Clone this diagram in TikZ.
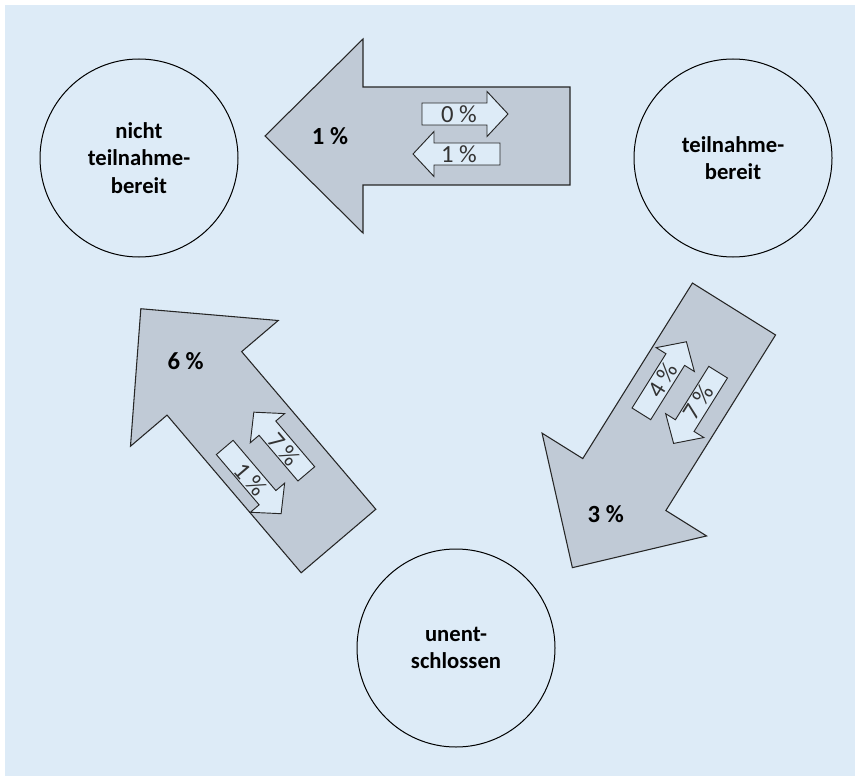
\documentclass[tikz,border=0pt]{standalone}
\usepackage{fontspec}
\setmainfont{Carlito}
\definecolor{bgblue}{RGB}{221,235,247}
\definecolor{flowgray}{RGB}{192,202,214}

% big flow arrow, local frame: tail centre at origin, pointing along +x
\newcommand\mainflow{%
  \draw[flow] (0,-49) -- (207,-49) -- (207,-97) -- (305,0) -- (207,97) -- (207,49) -- (0,49) -- cycle;}
% small flow arrow: #1 tail end, #2 tip, #3 offset from axis
\newcommand\subflow[3]{%
  \pgfmathsetmacro\headbase{#2-21*sign(#2-#1)}%
  \draw[subflowline] (#1,#3-11) -- (\headbase,#3-11) -- (\headbase,#3-22.5) -- (#2,#3)
    -- (\headbase,#3+22.5) -- (\headbase,#3+11) -- (#1,#3+11) -- cycle;}

\begin{document}
\begin{tikzpicture}[
    x=0.75pt, y=0.75pt,
    state/.style={draw, circle, minimum size=148.5pt, inner sep=0pt, align=center, line width=0.75pt,
      font=\bfseries\fontsize{17}{20.5}\selectfont},
    flow/.style={draw=black!85, fill=flowgray, line width=0.8pt, line join=miter},
    subflowline/.style={draw=black!85, fill=bgblue, line width=0.7pt},
    share/.style={font=\bfseries\fontsize{18.5}{20}\selectfont},
    subshare/.style={font=\fontsize{18.5}{20}\selectfont, text=black!80, inner sep=0pt}
]
    \useasboundingbox (0,0) rectangle (855,776);
    \fill[bgblue] (5,0) rectangle (855,771);

    % States
    \node[state] (nicht) at (139,618) {nicht\\teilnahme-\\bereit};
    \node[state] (bereit) at (733,618) {teilnahme-\\bereit};
    \node[state] (unent) at (456,128) {unent-\\schlossen};

    % bereit -> nicht
    \begin{scope}[shift={(570,640)}, rotate=180]
        \mainflow
        \node[share] (shareTop) at (240,0) {1 \%};
        \subflow{148}{62}{-22}
        \node[subshare, rotate=0] (subTopA) at (111,-22) {0 \%};
        \subflow{70}{157}{18}
        \node[subshare, rotate=0] (subTopB) at (111,18) {1 \%};
    \end{scope}

    % bereit -> unent
    \begin{scope}[shift={(734,467)}, rotate=238]
        \mainflow
        \node[share] (shareRight) at (242,0) {3 \%};
        \subflow{138}{53}{-23}
        \node[subshare, rotate=58] (subRightA) at (98,-23) {4 \%};
        \subflow{62}{146}{20}
        \node[subshare, rotate=58] (subRightB) at (98,19) {7 \%};
    \end{scope}

    % unent -> nicht
    \begin{scope}[shift={(338.5,235)}, rotate=130.4]
        \mainflow
        \node[share] (shareLeft) at (236,0) {6 \%};
        \subflow{72}{153}{-19}
        \node[subshare, rotate=-49.6] (subLeftA) at (105,-18) {7 \%};
        \subflow{145}{58}{26}
        \node[subshare, rotate=-49.6] (subLeftB) at (104,27) {1 \%};
    \end{scope}
\end{tikzpicture}
\end{document}
